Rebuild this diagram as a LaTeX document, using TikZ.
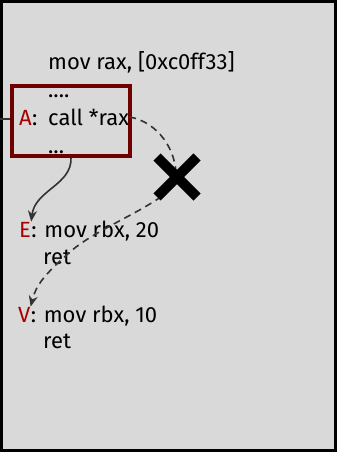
\documentclass[tikz,border=0pt]{standalone}
\usepackage{fontspec}
\setmainfont{Fira Sans}
\definecolor{bggray}{HTML}{D9D9D9}
\definecolor{labelred}{HTML}{A80000}
\definecolor{blockred}{HTML}{700000}
\definecolor{linegray}{HTML}{333333}
\usetikzlibrary{arrows.meta}

\begin{document}
\begin{tikzpicture}[
  x=1pt, y=-1pt,
  code/.style={anchor=base west, inner sep=0pt, font=\fontsize{22}{27}\selectfont},
  lbl/.style={code, text=labelred},
  block/.style={draw=blockred, line width=3.6pt, minimum width=118pt,
                minimum height=70pt, inner sep=0pt},
  flow/.style={-{Stealth[length=11pt, width=9pt]}, line width=1.6pt, linegray},
  jump/.style={flow, dash pattern=on 7pt off 5pt}
]
\useasboundingbox (0,0) rectangle (337,452);
\draw[fill=bggray, line width=3pt] (1.5,1.5) rectangle (335.5,450.5);

\node[code] (load) at (48,70) {mov rax, [0xc0ff33]};
\node[code] (dots1) at (48,97) {....};
\node[lbl] (alabel) at (19,125) {A};
\node[code] (acolon) at (alabel.base east) {:};
\node[code] (call) at (48,125) {call *rax};
\node[code] (dots2) at (48,153) {...};
\node[block] (blockA) at (71,121) {};

\node[lbl] (elabel) at (19,237) {E};
\node[code] (ecode) at (elabel.base east) {: mov rbx, 20};
\node[code] (eret) at (43,264) {ret};

\node[lbl] (vlabel) at (18,322) {V};
\node[code] (vcode) at (vlabel.base east) {: mov rbx, 10};
\node[code] (vret) at (43,348) {ret};

\coordinate (entry) at (0,119);
\draw[linegray, line width=1.2pt] (entry) -- (entry -| blockA.west);

\draw[flow] (blockA.south) .. controls (72,185) and (35,190) .. (elabel.north east);
\draw[jump] (call.east) .. controls (158,122) and (177,150) .. (176,178)
  .. controls (175,200) and (100,225) .. (70,252)
  .. controls (45,274) and (36,285) .. (vlabel.north east);

\coordinate (cross) at (177,177);
\draw[line width=10pt, shift={(cross)}] (-20,-20) -- (20,20) (-20,20) -- (20,-20);
\end{tikzpicture}
\end{document}
